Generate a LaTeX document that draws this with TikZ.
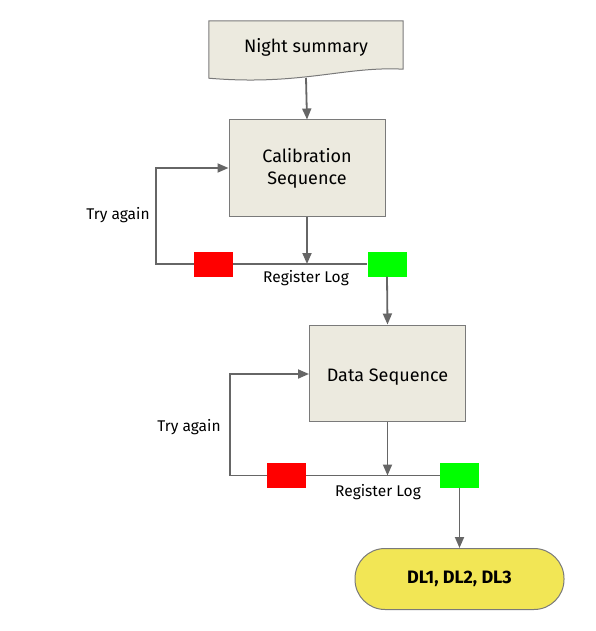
\documentclass[tikz,border=0pt]{standalone}
\usepackage{fontspec}
\setmainfont{Fira Sans}
\usepackage{tikz}
\usetikzlibrary{positioning, calc, shapes, arrows.meta}

\definecolor{boxfill}{HTML}{ECEADF}
\definecolor{boxline}{HTML}{7A7A7A}
\definecolor{wire}{HTML}{666666}
\definecolor{failred}{HTML}{FF0000}
\definecolor{passgreen}{HTML}{00FF00}
\definecolor{endyellow}{HTML}{F2E655}

\begin{document}
\begin{tikzpicture}[x=1pt, y=-1pt,
		process/.style = {rectangle, draw=boxline, fill=boxfill, line width=1pt,
			minimum width=156pt, minimum height=96pt, align=center,
			font=\fontsize{18}{22}\selectfont},
		flag/.style = {rectangle, minimum width=39pt, minimum height=25pt, inner sep=0pt},
		tag/.style = {font=\fontsize{15.5}{18}\selectfont},
		wireline/.style = {draw=wire, line width=1.8pt},
		go/.style = {wireline, -{Triangle[length=11pt, width=9pt]}}]
	\useasboundingbox (0,0) rectangle (595,631);

	% night summary document
	\node[rectangle, minimum width=194pt, minimum height=48pt]
		(night) at (306,45) {};
	\draw[draw=boxline, fill=boxfill, line width=1pt]
		(night.north west) -- (night.north east) -- (night.south east)
		.. controls (345,66) and (300,86) .. ($(night.south west)+(0,9)$) -- cycle;
	\node[font=\fontsize{18}{22}\selectfont] at (306,47) {Night summary};
	\coordinate (nightfoot) at (306,78);

	% calibration
	\node[process] (calib) at (307,168) {Calibration\\Sequence};
	\node[flag, fill=failred] (calfail) at (213.5,264) {};
	\node[flag, fill=passgreen] (calpass) at (387,264) {};
	\coordinate (calback) at (156,168);
	\draw[go] (nightfoot) -- (calib.north);
	\draw[wireline] (calfail.east) -- (calpass.west);
	\draw[go] (calib.south) -- (calib.south |- calfail.east);
	\draw[go] (calfail.west) -| (calback) -- (calib.west);
	\node[tag] (caltry) at (118,215) {Try again};
	\node[tag] (callog) at (306,278) {Register Log};

	% data
	\node[process, text height=21pt, text depth=4.5pt] (data) at (387.5,373) {Data Sequence};
	\node[flag, fill=failred] (datfail) at (286.5,475.5) {};
	\node[flag, fill=passgreen] (datpass) at (459.5,475.5) {};
	\coordinate (datback) at (230,374);
	\draw[go] (calpass.south) -- (data.north);
	\draw[wireline] (datfail.east) -- (datpass.west);
	\draw[go] (data.south) -- (data.south |- datfail.east);
	\draw[go] (datfail.west) -| (datback) -- (data.west |- datback);
	\node[tag] (dattry) at (189,427) {Try again};
	\node[tag] (datlog) at (378,492) {Register Log};

	% output
	\node[rectangle, rounded corners=30pt, draw=boxline, fill=endyellow, line width=1pt,
		minimum width=209pt, minimum height=61pt, font=\fontsize{18}{22}\selectfont\bfseries]
		(dl) at (459.5,579) {DL1, DL2, DL3};
	\draw[go] (datpass.south) -- (dl.north -| datpass.south);
\end{tikzpicture}
\end{document}
